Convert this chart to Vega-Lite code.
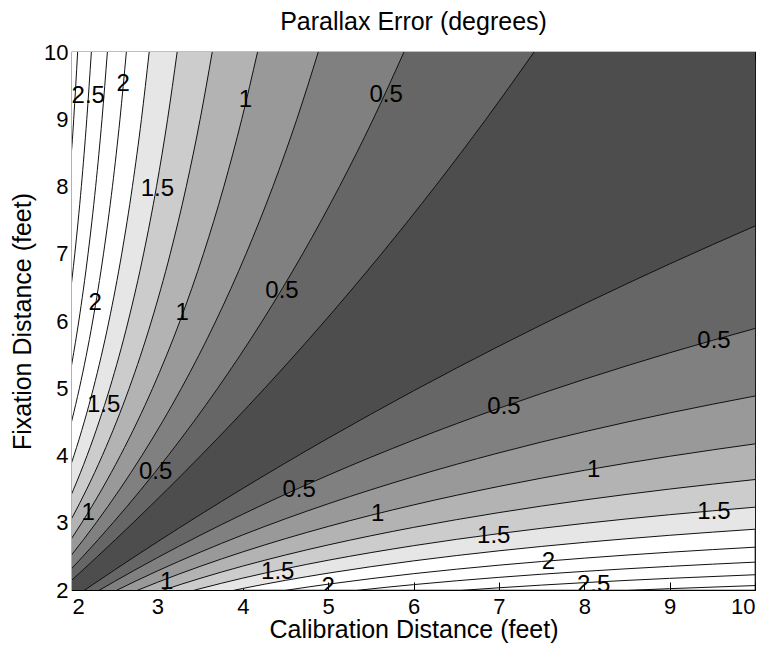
{
"$schema": "https://vega.github.io/schema/vega-lite/v6.json",
"width": 683, "height": 538,
"autosize": {"type": "none"},
"padding": {"left": 72, "top": 52, "right": 15, "bottom": 55},
"background": "white",
"title": {"text": "Parallax Error (degrees)", "fontSize": 25, "font": "Liberation Sans", "fontWeight": "normal", "color": "black", "offset": 6},
"config": {
 "view": {"stroke": "black", "strokeWidth": 1.2},
 "axis": {"grid": false, "domain": false, "tickColor": "black", "tickSize": -8, "tickWidth": 1, "labelFont": "Liberation Sans", "labelFontSize": 22, "labelColor": "black", "titleFont": "Liberation Sans", "titleFontSize": 25, "titleFontWeight": "normal", "titleColor": "black"}
},
"datasets": {
 "curves": [
  {"n":1,"c":2,"f":1.8695},{"n":1,"c":2.1501,"f":2},{"n":1,"c":2.25,"f":2.0862},{"n":1,"c":2.5,"f":2.2993},{"n":1,"c":2.75,"f":2.5091},{"n":1,"c":3,"f":2.7156},{"n":1,"c":3.5,"f":3.1189},{"n":1,"c":4,"f":3.5099},{"n":1,"c":4.5,"f":3.8891},{"n":1,"c":5,"f":4.257},{"n":1,"c":6,"f":4.961},{"n":1,"c":7,"f":5.6254},{"n":1,"c":8,"f":6.2536},{"n":1,"c":9,"f":6.8484},{"n":1,"c":10,"f":7.4125},
  {"n":2,"c":2,"f":1.755},{"n":2,"c":2.3246,"f":2},{"n":2,"c":2.5,"f":2.1285},{"n":2,"c":2.75,"f":2.3071},{"n":2,"c":3,"f":2.4805},{"n":2,"c":3.5,"f":2.8127},{"n":2,"c":4,"f":3.1268},{"n":2,"c":4.5,"f":3.4242},{"n":2,"c":5,"f":3.7063},{"n":2,"c":6,"f":4.2287},{"n":2,"c":7,"f":4.7021},{"n":2,"c":8,"f":5.1331},{"n":2,"c":9,"f":5.5272},{"n":2,"c":10,"f":5.8888},
  {"n":3,"c":2,"f":1.6537},{"n":3,"c":2.5299,"f":2},{"n":3,"c":2.75,"f":2.1351},{"n":3,"c":3,"f":2.2828},{"n":3,"c":3.5,"f":2.5613},{"n":3,"c":4,"f":2.8191},{"n":3,"c":4.5,"f":3.0586},{"n":3,"c":5,"f":3.2817},{"n":3,"c":6,"f":3.6848},{"n":3,"c":7,"f":4.0391},{"n":3,"c":8,"f":4.3531},{"n":3,"c":9,"f":4.6333},{"n":3,"c":10,"f":4.8847},
  {"n":4,"c":2,"f":1.5634},{"n":4,"c":2.7749,"f":2},{"n":4,"c":3,"f":2.1143},{"n":4,"c":3.5,"f":2.3511},{"n":4,"c":4,"f":2.5666},{"n":4,"c":4.5,"f":2.7636},{"n":4,"c":5,"f":2.9444},{"n":4,"c":6,"f":3.2648},{"n":4,"c":7,"f":3.54},{"n":4,"c":8,"f":3.7789},{"n":4,"c":9,"f":3.9882},{"n":4,"c":10,"f":4.1732},
  {"n":5,"c":2,"f":1.4825},{"n":5,"c":3.0725,"f":2},{"n":5,"c":3.5,"f":2.1727},{"n":5,"c":4,"f":2.3555},{"n":5,"c":4.5,"f":2.5204},{"n":5,"c":5,"f":2.67},{"n":5,"c":6,"f":2.9308},{"n":5,"c":7,"f":3.1507},{"n":5,"c":8,"f":3.3385},{"n":5,"c":9,"f":3.5009},{"n":5,"c":10,"f":3.6425},
  {"n":6,"c":2,"f":1.4096},{"n":6,"c":3.4416,"f":2},{"n":6,"c":3.5,"f":2.0196},{"n":6,"c":4,"f":2.1766},{"n":6,"c":4.5,"f":2.3166},{"n":6,"c":5,"f":2.4424},{"n":6,"c":6,"f":2.6588},{"n":6,"c":7,"f":2.8385},{"n":6,"c":8,"f":2.9901},{"n":6,"c":9,"f":3.1196},{"n":6,"c":10,"f":3.2316},
  {"n":7,"c":2,"f":1.3435},{"n":7,"c":3.9115,"f":2},{"n":7,"c":4,"f":2.0229},{"n":7,"c":4.5,"f":2.1433},{"n":7,"c":5,"f":2.2505},{"n":7,"c":6,"f":2.433},{"n":7,"c":7,"f":2.5826},{"n":7,"c":8,"f":2.7075},{"n":7,"c":9,"f":2.8133},{"n":7,"c":10,"f":2.904},
  {"n":8,"c":2,"f":1.2833},{"n":8,"c":4.5301,"f":2},{"n":8,"c":5,"f":2.0866},{"n":8,"c":6,"f":2.2426},{"n":8,"c":7,"f":2.369},{"n":8,"c":8,"f":2.4737},{"n":8,"c":9,"f":2.5617},{"n":8,"c":10,"f":2.6368},
  {"n":9,"c":2,"f":1.2283},{"n":9,"c":5.3809,"f":2},{"n":9,"c":6,"f":2.0798},{"n":9,"c":7,"f":2.1881},{"n":9,"c":8,"f":2.2771},{"n":9,"c":9,"f":2.3514},{"n":9,"c":10,"f":2.4145},
  {"n":10,"c":2,"f":1.1778},{"n":10,"c":6.6255,"f":2},{"n":10,"c":7,"f":2.0328},{"n":10,"c":8,"f":2.1094},{"n":10,"c":9,"f":2.1731},{"n":10,"c":10,"f":2.2268},
  {"n":11,"c":2,"f":1.1312},{"n":11,"c":8.6186,"f":2},{"n":11,"c":9,"f":2.0199},{"n":11,"c":10,"f":2.0662}
 ],
 "labels": [
  {"c":2.19,"f":9.35,"t":"2.5"},{"c":2.6,"f":9.52,"t":"2"},{"c":4.03,"f":9.29,"t":"1"},{"c":5.68,"f":9.36,"t":"0.5"},
  {"c":3.0,"f":7.96,"t":"1.5"},{"c":2.27,"f":6.27,"t":"2"},{"c":3.29,"f":6.12,"t":"1"},{"c":4.46,"f":6.45,"t":"0.5"},
  {"c":9.52,"f":5.7,"t":"0.5"},{"c":2.37,"f":4.75,"t":"1.5"},{"c":7.06,"f":4.72,"t":"0.5"},{"c":2.98,"f":3.75,"t":"0.5"},
  {"c":8.11,"f":3.78,"t":"1"},{"c":4.66,"f":3.49,"t":"0.5"},{"c":2.19,"f":3.14,"t":"1"},{"c":5.58,"f":3.13,"t":"1"},
  {"c":9.52,"f":3.16,"t":"1.5"},{"c":6.94,"f":2.8,"t":"1.5"},{"c":7.58,"f":2.42,"t":"2"},{"c":3.11,"f":2.12,"t":"1"},
  {"c":4.41,"f":2.27,"t":"1.5"},{"c":5.0,"f":2.04,"t":"2"},{"c":8.11,"f":2.08,"t":"2.5"}
 ]
},
"data": {"name": "curves"},
"resolve": {"axis": {"x": "independent", "y": "independent"}},
"layer": [
 {"transform":[{"filter":"datum.n==7"}],"mark":{"type":"area","interpolate":"monotone","clip":true,"color":"#e6e6e6"},
  "encoding":{"x":{"field":"c","type":"quantitative","scale":{"domain":[2,10],"nice":false,"zero":false},"axis":{"orient":"bottom","values":[2,3,4,5,6,7,8,9,10],"format":"d","title":"Calibration Distance (feet)","labelPadding":14,"titlePadding":0}},
   "y":{"field":"f","type":"quantitative","scale":{"domain":[2,10],"nice":false,"zero":false},"axis":{"orient":"left","values":[2,3,4,5,6,7,8,9,10],"format":"d","title":"Fixation Distance (feet)","labelPadding":12,"titlePadding":8}},
   "y2":{"datum":10}}},
 {"transform":[{"filter":"datum.n==6"}],"mark":{"type":"area","interpolate":"monotone","clip":true,"color":"#cccccc"},
  "encoding":{"x":{"field":"c","type":"quantitative","scale":{"domain":[2,10],"nice":false,"zero":false},"axis":null},"y":{"field":"f","type":"quantitative","scale":{"domain":[2,10],"nice":false,"zero":false},"axis":null},"y2":{"datum":10}}},
 {"transform":[{"filter":"datum.n==5"}],"mark":{"type":"area","interpolate":"monotone","clip":true,"color":"#b3b3b3"},
  "encoding":{"x":{"field":"c","type":"quantitative","scale":{"domain":[2,10],"nice":false,"zero":false},"axis":null},"y":{"field":"f","type":"quantitative","scale":{"domain":[2,10],"nice":false,"zero":false},"axis":null},"y2":{"datum":10}}},
 {"transform":[{"filter":"datum.n==4"}],"mark":{"type":"area","interpolate":"monotone","clip":true,"color":"#999999"},
  "encoding":{"x":{"field":"c","type":"quantitative","scale":{"domain":[2,10],"nice":false,"zero":false},"axis":null},"y":{"field":"f","type":"quantitative","scale":{"domain":[2,10],"nice":false,"zero":false},"axis":null},"y2":{"datum":10}}},
 {"transform":[{"filter":"datum.n==3"}],"mark":{"type":"area","interpolate":"monotone","clip":true,"color":"#808080"},
  "encoding":{"x":{"field":"c","type":"quantitative","scale":{"domain":[2,10],"nice":false,"zero":false},"axis":null},"y":{"field":"f","type":"quantitative","scale":{"domain":[2,10],"nice":false,"zero":false},"axis":null},"y2":{"datum":10}}},
 {"transform":[{"filter":"datum.n==2"}],"mark":{"type":"area","interpolate":"monotone","clip":true,"color":"#666666"},
  "encoding":{"x":{"field":"c","type":"quantitative","scale":{"domain":[2,10],"nice":false,"zero":false},"axis":null},"y":{"field":"f","type":"quantitative","scale":{"domain":[2,10],"nice":false,"zero":false},"axis":null},"y2":{"datum":10}}},
 {"transform":[{"filter":"datum.n==1"}],"mark":{"type":"area","interpolate":"monotone","clip":true,"color":"#4d4d4d"},
  "encoding":{"x":{"field":"c","type":"quantitative","scale":{"domain":[2,10],"nice":false,"zero":false},"axis":null},"y":{"field":"f","type":"quantitative","scale":{"domain":[2,10],"nice":false,"zero":false},"axis":null},"y2":{"datum":10}}},
 {"transform":[{"filter":"datum.n==1"}],"mark":{"type":"area","interpolate":"monotone","clip":true,"color":"#666666"},
  "encoding":{"x":{"field":"f","type":"quantitative","scale":{"domain":[2,10],"nice":false,"zero":false},"axis":null},"y":{"field":"c","type":"quantitative","scale":{"domain":[2,10],"nice":false,"zero":false},"axis":null},"y2":{"datum":10}}},
 {"transform":[{"filter":"datum.n==2"}],"mark":{"type":"area","interpolate":"monotone","clip":true,"color":"#808080"},
  "encoding":{"x":{"field":"f","type":"quantitative","scale":{"domain":[2,10],"nice":false,"zero":false},"axis":null},"y":{"field":"c","type":"quantitative","scale":{"domain":[2,10],"nice":false,"zero":false},"axis":null},"y2":{"datum":10}}},
 {"transform":[{"filter":"datum.n==3"}],"mark":{"type":"area","interpolate":"monotone","clip":true,"color":"#999999"},
  "encoding":{"x":{"field":"f","type":"quantitative","scale":{"domain":[2,10],"nice":false,"zero":false},"axis":null},"y":{"field":"c","type":"quantitative","scale":{"domain":[2,10],"nice":false,"zero":false},"axis":null},"y2":{"datum":10}}},
 {"transform":[{"filter":"datum.n==4"}],"mark":{"type":"area","interpolate":"monotone","clip":true,"color":"#b3b3b3"},
  "encoding":{"x":{"field":"f","type":"quantitative","scale":{"domain":[2,10],"nice":false,"zero":false},"axis":null},"y":{"field":"c","type":"quantitative","scale":{"domain":[2,10],"nice":false,"zero":false},"axis":null},"y2":{"datum":10}}},
 {"transform":[{"filter":"datum.n==5"}],"mark":{"type":"area","interpolate":"monotone","clip":true,"color":"#cccccc"},
  "encoding":{"x":{"field":"f","type":"quantitative","scale":{"domain":[2,10],"nice":false,"zero":false},"axis":null},"y":{"field":"c","type":"quantitative","scale":{"domain":[2,10],"nice":false,"zero":false},"axis":null},"y2":{"datum":10}}},
 {"transform":[{"filter":"datum.n==6"}],"mark":{"type":"area","interpolate":"monotone","clip":true,"color":"#e6e6e6"},
  "encoding":{"x":{"field":"f","type":"quantitative","scale":{"domain":[2,10],"nice":false,"zero":false},"axis":null},"y":{"field":"c","type":"quantitative","scale":{"domain":[2,10],"nice":false,"zero":false},"axis":null},"y2":{"datum":10}}},
 {"transform":[{"filter":"datum.n==7"}],"mark":{"type":"area","interpolate":"monotone","clip":true,"color":"#ffffff"},
  "encoding":{"x":{"field":"f","type":"quantitative","scale":{"domain":[2,10],"nice":false,"zero":false},"axis":null},"y":{"field":"c","type":"quantitative","scale":{"domain":[2,10],"nice":false,"zero":false},"axis":null},"y2":{"datum":10}}},
 {"mark":{"type":"line","interpolate":"monotone","clip":true,"color":"#111111","strokeWidth":1},
  "encoding":{"x":{"field":"c","type":"quantitative","scale":{"domain":[2,10],"nice":false,"zero":false},"axis":null},"y":{"field":"f","type":"quantitative","scale":{"domain":[2,10],"nice":false,"zero":false},"axis":null},"detail":{"field":"n","type":"nominal"}}},
 {"mark":{"type":"line","interpolate":"monotone","clip":true,"color":"#111111","strokeWidth":1},
  "encoding":{"x":{"field":"f","type":"quantitative","scale":{"domain":[2,10],"nice":false,"zero":false},"axis":null},"y":{"field":"c","type":"quantitative","scale":{"domain":[2,10],"nice":false,"zero":false},"axis":null},"detail":{"field":"n","type":"nominal"}}},
 {"data":{"name":"labels"},"mark":{"type":"text","clip":true,"font":"Liberation Sans","fontSize":24,"color":"black","align":"center","baseline":"middle"},
  "encoding":{"x":{"field":"c","type":"quantitative","scale":{"domain":[2,10],"nice":false,"zero":false},"axis":{"orient":"top","values":[2,3,4,5,6,7,8,9,10],"labels":false,"title":null}},
   "y":{"field":"f","type":"quantitative","scale":{"domain":[2,10],"nice":false,"zero":false},"axis":{"orient":"right","values":[2,3,4,5,6,7,8,9,10],"labels":false,"title":null}},
   "text":{"field":"t","type":"nominal"}}}
]
}
